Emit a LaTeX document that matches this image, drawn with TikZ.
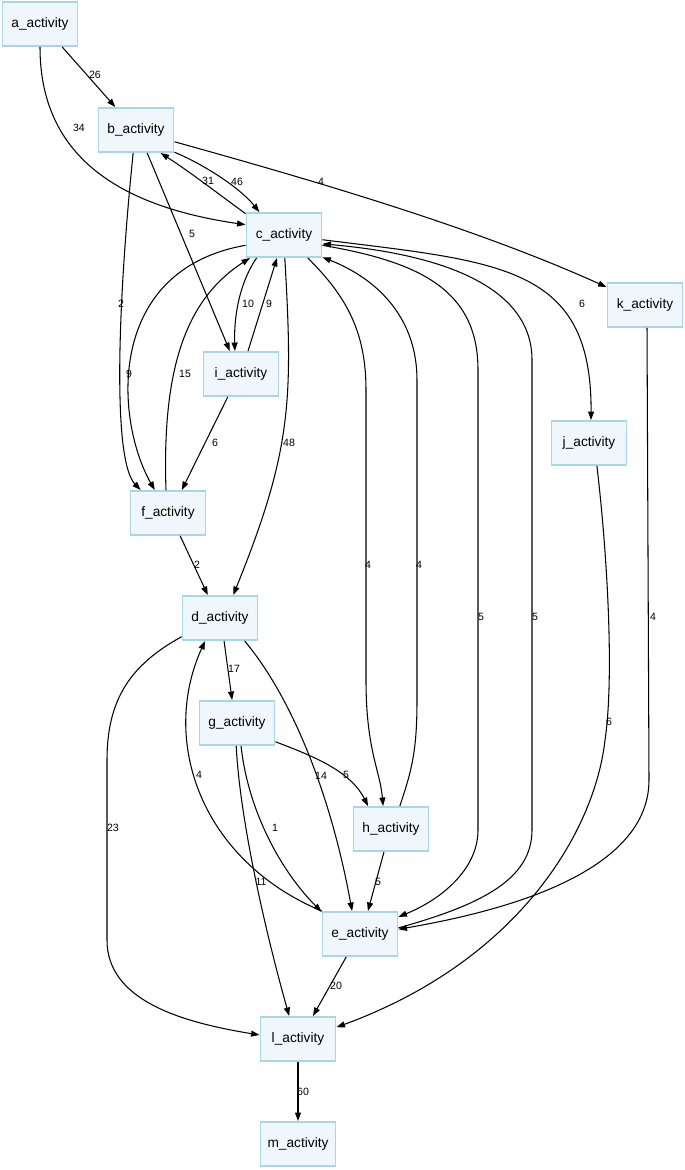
\documentclass[tikz,border=0pt]{standalone}
\usepackage{fontspec}
\setmainfont{Liberation Sans}
\usetikzlibrary{arrows.meta}
\definecolor{actfill}{HTML}{EFF7FD}
\definecolor{actline}{HTML}{A9D6E5}
\tikzset{
  act/.style={
    shape = rectangle,
    draw = actline,
    fill = actfill,
    line width = 1.1pt,
    minimum width = 1.5cm,
    minimum height = 0.88cm,
    inner sep = 0pt,
    font = \fontsize{7.8}{9}\selectfont
  },
  wt/.style={
    inner sep = 0pt,
    font = \fontsize{6}{7}\selectfont
  },
  flow/.style={
    line width = 0.6pt,
    -{Triangle[length=1.7mm,width=1.2mm]}
  },
}
\begin{document}
\begin{tikzpicture}[x=0.02cm,y=-0.02cm]
\useasboundingbox (0,0) rectangle (685,1170);
      \foreach \n/\x/\y in {a/40/24, b/136/130, c/284/235, k/645/305, i/241/374,
                            j/589/443, f/168/513, d/220/618, g/237/723, h/391/829,
                            e/360/934, l/298/1039, m/298/1144}{
        \node[act] (\n) at (\x,\y) {\n\_activity}; }
\draw[flow] (a.-46) -- (b.132);
\draw[flow] (a.-90) .. controls (40,150) and (110,205) .. (c.165);
\draw[flow] (c.151) .. controls (220,195) and (190,172) .. (b.-43);
\draw[flow] (b.-30) .. controls (205,165) and (240,188) .. (c.137);
\draw[flow] (b.-17) .. controls (330,185) and (480,230) .. (k.155);
\draw[flow] (b.-64) -- (i.116);
\draw[flow] (b.-97) .. controls (118,300) and (112,460) .. (f.140);
\draw[flow] (c.-165) .. controls (105,270) and (115,420) .. (f.120);
\draw[flow] (f.95) .. controls (162,370) and (185,300) .. (c.-146);
\draw[flow] (c.-140) .. controls (238,285) and (234,320) .. (i.105);
\draw[flow] (i.73) -- (c.-107);
\draw[flow] (i.-120) -- (f.59);
\draw[flow] (c.-88) .. controls (293,400) and (292,450) .. (d.60);
\draw[flow] (f.-62) -- (d.118);
\draw[flow] (c.-7) .. controls (500,262) and (592,265) .. (j.85);
\draw[flow] (c.-44) .. controls (345,295) and (366,330) .. (366,390) -- (366,680)
            .. controls (366,750) and (380,770) .. (h.109);
\draw[flow] (h.69) .. controls (412,770) and (417,750) .. (417,700) -- (417,380)
            .. controls (417,320) and (380,280) .. (c.-30);
\draw[flow] (c.-15) .. controls (420,262) and (478,290) .. (478,370) -- (478,830)
            .. controls (478,870) and (440,900) .. (e.24);
\draw[flow] (e.9) .. controls (480,905) and (532,880) .. (532,830) -- (532,360)
            .. controls (532,290) and (450,255) .. (c.-13);
\draw[flow] (k.-85) -- (649,780) .. controls (649,880) and (480,915) .. (e.7);
\draw[flow] (j.-71) .. controls (608,560) and (614,680) .. (605,740)
            .. controls (595,830) and (520,960) .. (l.17);
\draw[flow] (d.-80) -- (g.102);
\draw[flow] (d.-43) .. controls (290,695) and (330,790) .. (e.109);
\draw[flow] (e.149) .. controls (200,860) and (160,740) .. (d.-123);
\draw[flow] (g.-26) .. controls (310,755) and (350,770) .. (h.135);
\draw[flow] (g.-80) .. controls (248,810) and (280,870) .. (e.150);
\draw[flow] (g.-92) .. controls (240,820) and (265,930) .. (l.111);
\draw[flow] (h.-107) -- (e.71);
\draw[flow] (d.-154) .. controls (130,665) and (107,700) .. (107,760) -- (107,940)
            .. controls (107,1000) and (180,1022) .. (l.174);
\draw[flow] (e.-121) -- (l.57);
\draw[flow] (l.-90) -- (m.90);
      \foreach \t/\x/\y [count=\q] in {26/95/75, 34/79/128, 31/208/181, 46/237/182,
                            4/321/182, 5/192/234, 2/121/304, 9/129/374, 15/185/374,
                            10/248/304, 9/269/304, 6/215/443, 48/289/443, 2/197/565,
                            6/582/304, 4/368/565, 4/419/565, 5/481/617, 5/535/617,
                            4/653/617, 6/609/722, 17/234/669, 14/321/776, 4/199/775,
                            5/346/775, 1/275/828, 11/261/882, 5/378/882, 23/113/828,
                            20/336/986, 60/303/1092}{
        \node[wt] (w\q) at (\x,\y) {\t}; }
\end{tikzpicture}
\end{document}
